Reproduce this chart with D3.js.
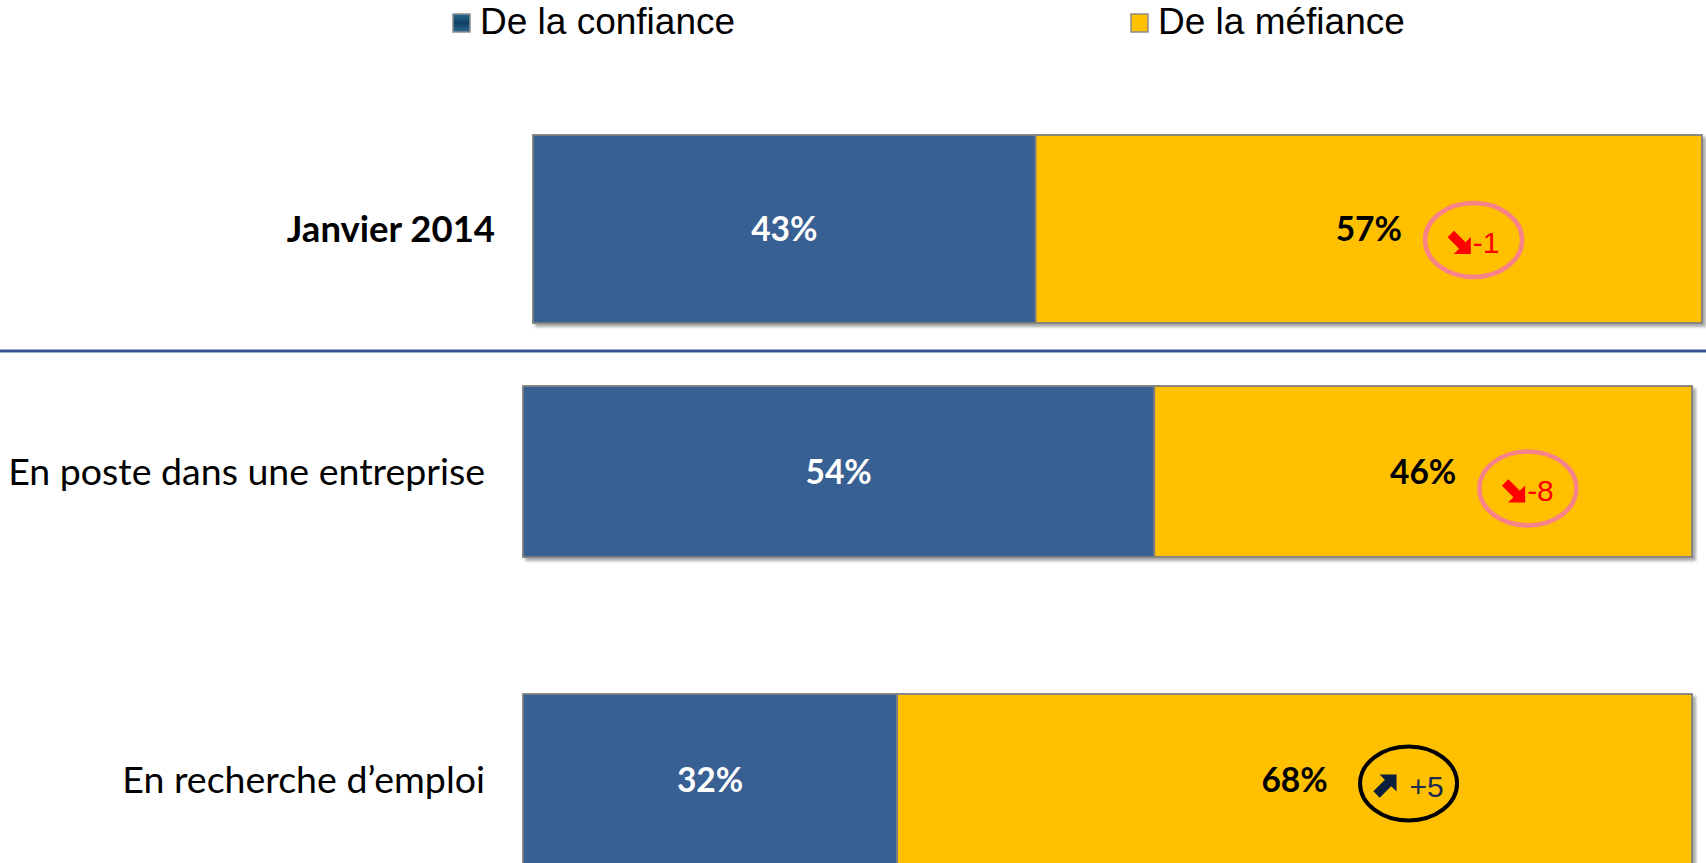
<!DOCTYPE html>
<html>
<head>
<meta charset="utf-8">
<script src="https://cdn.jsdelivr.net/npm/d3@7"></script>
<style>
    html, body { margin: 0; padding: 0; background: #fff; overflow: hidden; }
    svg { display: block; }
</style>
</head>
<body>
<div id="chart"></div>
<script>
// Data
const seriesNames = ["De la confiance", "De la méfiance"];
const totalLabel = "Janvier 2014";
const groupLabels = ["En poste dans une entreprise", "En recherche d’emploi"];
const confiance = [43, 54, 32];
const mefiance = [57, 46, 68];
const evolution = [-1, -8, 5];

// Layout
const width = 1706, height = 863;
const colors = { confiance: "#376092", mefiance: "#FFC000" };
const badgeBaseline = [24, 30, 17]; // hand placed in the original, below bar centre

const rows = [totalLabel, ...groupLabels].map((label, i) => ({
    label,
    bold: i === 0,
    values: [confiance[i], mefiance[i]],
    evolution: evolution[i],
    badgeY: badgeBaseline[i]
}));

const svg = d3.select("#chart").append("svg")
    .attr("width", width)
    .attr("height", height);

const defs = svg.append("defs");
defs.append("filter")
    .attr("id", "shadow")
    .attr("x", "-5%").attr("y", "-10%")
    .attr("width", "110%").attr("height", "130%")
    .append("feDropShadow")
    .attr("dx", 3).attr("dy", 3)
    .attr("stdDeviation", 1.5)
    .attr("flood-color", "#000")
    .attr("flood-opacity", 0.35);

const legendGrad = defs.append("linearGradient")
    .attr("id", "legendBlue")
    .attr("x1", 0).attr("y1", 0).attr("x2", 0).attr("y2", 1);
legendGrad.append("stop").attr("offset", "0%").attr("stop-color", "#2a6a90");
legendGrad.append("stop").attr("offset", "50%").attr("stop-color", "#0f3f60");
legendGrad.append("stop").attr("offset", "100%").attr("stop-color", "#2a6a90");

// Scales
const x = d3.scaleLinear().domain([0, 100]).range([0, 1169]);
const yTop = d3.scaleBand().domain([totalLabel]).range([135, 323]);
const yGroups = d3.scaleBand().domain(groupLabels).range([386, 865])
    .paddingInner(0.445).paddingOuter(0);

const rowY = d => d.bold ? yTop(d.label) : yGroups(d.label);
const rowH = d => d.bold ? yTop.bandwidth() : yGroups.bandwidth();
const rowX = d => d.bold ? 533 : 523;

// Legend
const legendItems = [
    { name: seriesNames[0], fill: "url(#legendBlue)", x: 453 },
    { name: seriesNames[1], fill: colors.mefiance, x: 1131 }
];
const legend = svg.append("g").attr("class", "legend");
const li = legend.selectAll("g").data(legendItems).join("g")
    .attr("transform", d => `translate(${d.x},0)`);
li.append("rect")
    .attr("x", 0).attr("y", 14)
    .attr("width", 17).attr("height", 18)
    .attr("fill", d => d.fill)
    .attr("stroke", "#8c8c8c")
    .attr("stroke-width", 1.5);
li.append("text")
    .attr("x", 27).attr("y", 34)
    .attr("font-family", "'Liberation Sans', Arial, sans-serif")
    .attr("font-size", 37)
    .attr("fill", "#000")
    .text(d => d.name);

// Divider between total and sub-groups
svg.append("line")
    .attr("x1", 0).attr("x2", width)
    .attr("y1", 351).attr("y2", 351)
    .attr("stroke", "#7d93c4")
    .attr("stroke-width", 3.5);
svg.append("line")
    .attr("x1", 0).attr("x2", width)
    .attr("y1", 351).attr("y2", 351)
    .attr("stroke", "#1f3a82")
    .attr("stroke-width", 1.6);

// Rows
const rowG = svg.append("g").attr("class", "rows")
    .selectAll("g").data(rows).join("g")
    .attr("transform", d => `translate(0,${rowY(d)})`);

// Category labels
rowG.append("text")
    .attr("x", d => rowX(d) - 38)
    .attr("y", d => rowH(d) / 2)
    .attr("dy", "0.36em")
    .attr("text-anchor", "end")
    .attr("font-family", "Lato, 'Open Sans', sans-serif")
    .attr("font-size", d => d.bold ? 36.5 : 37.5)
    .attr("font-weight", d => d.bold ? 700 : 400)
    .attr("fill", "#000")
    .text(d => d.label);

// Bars
const barG = rowG.append("g")
    .attr("transform", d => `translate(${rowX(d)},0)`)
    .attr("filter", "url(#shadow)");

const segments = d => {
    let acc = 0;
    return d.values.map((v, k) => {
        const s = { start: acc, value: v, key: k, h: rowH(d) };
        acc += v;
        return s;
    });
};

barG.selectAll("rect").data(segments).join("rect")
    .attr("x", s => x(s.start))
    .attr("y", 0)
    .attr("width", s => x(s.value) - x(0))
    .attr("height", s => s.h)
    .attr("fill", s => s.key === 0 ? colors.confiance : colors.mefiance)
    .attr("stroke", "#7f7f7f")
    .attr("stroke-width", 1.8);

// Value labels
rowG.append("g")
    .attr("transform", d => `translate(${rowX(d)},0)`)
    .selectAll("text").data(segments).join("text")
    .attr("x", s => x(s.start + s.value / 2))
    .attr("y", s => s.h / 2)
    .attr("dy", "0.36em")
    .attr("text-anchor", "middle")
    .attr("font-family", "Lato, 'Open Sans', sans-serif")
    .attr("font-size", 33.5)
    .attr("font-weight", 700)
    .attr("fill", s => s.key === 0 ? "#fff" : "#000")
    .text(s => s.value + "%");

// Evolution badges: arrow + figure, circled
const badge = rowG.append("g")
    .attr("transform", d => {
        const ax = rowX(d) + x(d.values[0] + d.values[1] / 2) + 79;
        return `translate(${ax},${rowH(d) / 2 + d.badgeY})`;
    });

const A = 23, w = 4.5 / Math.SQRT2;
const m = (A + 6) / 2;
const downArrow = [
    [3 + w, 3 - w], [m + w, m - w], [A, 6], [A, A], [6, A], [m - w, m + w], [3 - w, 3 + w]
];
const arrowColor = d => d.evolution < 0 ? "#ff0000" : "#0d1f3f";

badge.append("path")
    .attr("fill", arrowColor)
    .attr("d", d => {
        // down-right arrow for a fall, mirrored to up-right for a rise
        const pts = downArrow.map(([px, py]) => d.evolution < 0 ? [px, py - A] : [px, -py]);
        return "M" + pts.map(p => p.join(",")).join("L") + "Z";
    })
    .attr("transform", "translate(0,1)");

badge.append("text")
    .attr("x", d => A + (d.evolution < 0 ? 2 : 13))
    .attr("y", 0)
    .attr("font-family", "'Liberation Sans', Arial, sans-serif")
    .attr("font-size", 30)
    .attr("fill", d => d.evolution < 0 ? "#ff0000" : "#1a2a50")
    .text(d => d.evolution < 0 ? "-" + Math.abs(d.evolution) : "+" + d.evolution);

badge.each(function(d) {
    const g = d3.select(this);
    const bb = this.getBBox();
    g.insert("ellipse", ":first-child")
        .attr("cx", bb.x + bb.width / 2)
        .attr("cy", -13)
        .attr("rx", 48.5).attr("ry", 37)
        .attr("fill", "none")
        .attr("stroke", d.evolution < 0 ? "#f7828a" : "#000")
        .attr("stroke-width", d.evolution < 0 ? 4.5 : 4);
});
</script>
</body>
</html>
